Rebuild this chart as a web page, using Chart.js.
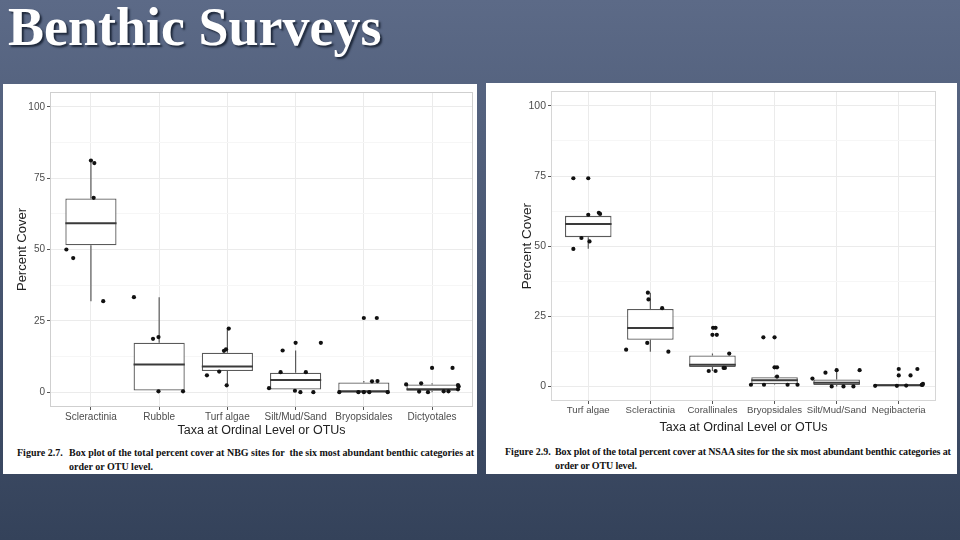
<!DOCTYPE html>
<html>
<head>
<meta charset="utf-8">
<script src="https://cdn.jsdelivr.net/npm/chart.js@4/dist/chart.umd.min.js"></script>
<style>
  body {
    margin: 0; width: 960px; height: 540px; overflow: hidden; position: relative;
    background: linear-gradient(180deg, #5c6a87 0%, #485671 50%, #34425a 100%);
  }
  h1 {
    position: absolute; left: 8px; top: 0; margin: 0;
    font: bold 54px/54px "Liberation Serif", "Times New Roman", serif;
    color: #fff; text-shadow: 2px 2px 2px #1e283a;
  }
  .panel { position: absolute; background: #fff; }
  canvas { position: absolute; }
  .cap {
    position: absolute; font: bold 10px/14px "Liberation Serif", "Times New Roman", serif;
    color: #111; white-space: nowrap;
  }
</style>
</head>
<body>
<h1>Benthic Surveys</h1>
<div class="panel" style="left:3px; top:84px; width:474px; height:390px;"></div>
<div class="panel" style="left:486px; top:83px; width:471px; height:391px;"></div>
<canvas id="nbg" width="475" height="354" style="left:3px; top:84px;"></canvas>
<canvas id="nsaa" width="470" height="352" style="left:487px; top:83px;"></canvas>
<div class="cap" style="left:17px; top:446px;">Figure 2.7.</div>
<div class="cap" style="left:69px; top:446px;">Box plot of the total percent cover at NBG sites for &nbsp;the six most abundant benthic categories at<br>order or OTU level.</div>
<div class="cap" style="left:505px; top:445px;">Figure 2.9.</div>
<div class="cap" style="left:555px; top:445px; letter-spacing:-0.12px;">Box plot of the total percent cover at NSAA sites for the six most abundant benthic categories at<br>order or OTU level.</div>
<script>
// NBG sites (Figure 2.7)
const nbgTaxa = ["Scleractinia", "Rubble", "Turf algae", "Silt/Mud/Sand", "Bryopsidales", "Dictyotales"];
const nbgQ1 = [51.5, 0.6, 7.4, 0.9, 0.0, 0.5];
const nbgMedian = [59.2, 9.7, 9.0, 4.3, 0.2, 1.0];
const nbgQ3 = [67.9, 17.3, 13.8, 6.8, 3.4, 2.7];
const nbgLower = [31.9, 0.3, 2.4, 0.1, 0.0, 0.0];
const nbgUpper = [81.2, 33.3, 22.3, 14.6, 3.9, 3.1];
const nbgSites = [
  [81.2, 80.3, 68.1, 50.0, 47.0, 31.9],
  [33.3, 18.7, 19.3, 0.3, 0.3],
  [22.3, 14.5, 15.0, 5.9, 7.2, 2.4],
  [14.6, 17.3, 17.3, 7.0, 7.0, 1.4, 0.5, 0.0, 0.0],
  [26.0, 26.0, 3.8, 3.9, 0.0, 0.0, 0.0, 0.0, 0.0],
  [8.5, 8.5, 3.1, 2.7, 0.2, 0.0, 0.3, 0.3, 1.0, 2.0, 2.5]
];
const nbgJitter = [
  [0, 0.05, 0.04, -0.36, -0.26, 0.18],
  [-0.37, -0.09, -0.01, -0.01, 0.35],
  [0.02, -0.05, -0.02, -0.3, -0.12, -0.01],
  [-0.19, 0, 0.37, -0.22, 0.15, -0.39, -0.01, 0.07, 0.26],
  [0, 0.19, 0.12, 0.2, -0.36, -0.08, 0, 0.08, 0.35],
  [0, 0.3, -0.16, -0.38, -0.19, -0.06, 0.17, 0.24, 0.38, 0.39, 0.38]
];

// NSAA sites (Figure 2.9)
const nsaaTaxa = ["Turf algae", "Scleractinia", "Corallinales", "Bryopsidales", "Silt/Mud/Sand", "Negibacteria"];
const nsaaQ1 = [53.2, 16.6, 6.9, 0.8, 0.5, 0.0];
const nsaaMedian = [57.9, 20.8, 7.7, 2.2, 1.3, 0.4];
const nsaaQ3 = [60.8, 27.6, 11.0, 3.3, 2.5, 0.8];
const nsaaLower = [49.1, 12.4, 5.5, 0.6, 0.0, 0.0];
const nsaaUpper = [61.2, 33.4, 11.7, 3.5, 5.8, 0.9];
const nsaaSites = [
  [74.2, 74.2, 61.9, 61.5, 61.2, 52.9, 51.7, 49.0],
  [33.4, 31.0, 27.9, 15.5, 13.1, 12.4],
  [20.9, 20.9, 18.4, 18.4, 11.7, 6.6, 6.6, 5.5, 5.5],
  [17.5, 17.5, 6.8, 6.8, 3.5, 0.6, 0.6, 0.6, 0.6],
  [5.8, 5.8, 4.9, 2.8, 0.0, 0.0, 0.0],
  [6.2, 6.2, 3.9, 3.9, 0.2, 0.2, 0.5, 0.6, 0.9, 0.3]
];
const nsaaJitter = [
  [-0.24, 0, 0.17, 0.19, 0, -0.11, 0.02, -0.24],
  [-0.04, -0.03, 0.19, -0.05, -0.39, 0.29],
  [0.01, 0.05, 0, 0.07, 0.27, 0.18, 0.2, -0.06, 0.05],
  [-0.18, 0, 0, 0.04, 0.04, -0.38, 0.37, 0.21, -0.17],
  [0, 0.37, -0.18, -0.39, -0.08, 0.11, 0.27],
  [0, 0.3, 0, 0.19, -0.38, -0.03, 0.38, 0.37, 0.39, 0.12]
];

const yTicks = [0, 12.5, 25, 37.5, 50, 62.5, 75, 87.5, 100];
const BOX_HALF = 0.375;

Chart.defaults.font.family = '"Liberation Sans", Arial, sans-serif';
Chart.defaults.color = "#4d4d4d";

const panelBorder = {
  id: "panelBorder",
  afterDraw(chart, args, opts) {
    const { ctx, chartArea: a } = chart;
    ctx.save();
    ctx.strokeStyle = opts.color;
    ctx.lineWidth = 1;
    ctx.strokeRect(Math.round(a.left) + 0.5, Math.round(a.top) + 0.5, Math.round(a.width) - 1, Math.round(a.height) - 1);
    ctx.restore();
  }
};

function boxDatasets(q1, median, q3, lower, upper, sites, jitter) {
  const medianPath = [], whiskerPath = [], points = [];
  q1.forEach((_, i) => {
    medianPath.push({ x: i - BOX_HALF, y: median[i] }, { x: i + BOX_HALF, y: median[i] }, { x: i, y: null });
    whiskerPath.push({ x: i, y: q3[i] }, { x: i, y: upper[i] }, { x: i, y: null },
                     { x: i, y: q1[i] }, { x: i, y: lower[i] }, { x: i, y: null });
    sites[i].forEach((v, k) => points.push({ x: i + jitter[i][k], y: v }));
  });
  return [
    { type: "scatter", data: points, pointRadius: 2.1, backgroundColor: "#111", borderWidth: 0, order: 0 },
    { type: "line", data: medianPath, borderColor: "#3a3a3a", borderWidth: 2, pointRadius: 0, spanGaps: false, order: 1 },
    {
      type: "bar", data: q1.map((v, i) => ({ x: i, y: [v, q3[i]] })),
      backgroundColor: "#fff", borderColor: "#5a5a5a", borderWidth: 1.3, borderSkipped: false,
      categoryPercentage: 0.75, barPercentage: 1, order: 2
    },
    { type: "line", data: whiskerPath, borderColor: "#5a5a5a", borderWidth: 1.2, pointRadius: 0, spanGaps: false, order: 3 }
  ];
}

function makeChart(id, taxa, datasets, look) {
  return new Chart(document.getElementById(id), {
    type: "scatter",
    data: { datasets: datasets },
    options: {
      responsive: false,
      animation: false,
      events: [],
      layout: { padding: { top: look.padTop, right: look.padRight, left: 0, bottom: 0 } },
      plugins: {
        legend: { display: false },
        tooltip: { enabled: false },
        panelBorder: { color: look.borderColor }
      },
      scales: {
        x: {
          type: "linear",
          min: -0.6,
          max: 5.6,
          offset: false,
          afterBuildTicks: (s) => { s.ticks = taxa.map((t, i) => ({ value: i })); },
          afterFit: (s) => { s.height = look.xHeight; },
          ticks: {
            callback: (v) => taxa[v],
            autoSkip: false, maxRotation: 0, padding: 1,
            color: "#4d4d4d", font: look.xTickFont
          },
          grid: { offset: false, color: "#ebebeb", tickColor: "#555", tickLength: 3 },
          border: { display: false },
          title: {
            display: true, text: "Taxa at Ordinal Level or OTUs", color: "#222",
            font: look.xTitleFont, padding: { top: 0, bottom: 0 }
          }
        },
        y: {
          min: -5.2,
          max: 105.2,
          afterBuildTicks: (s) => { s.ticks = yTicks.map((v) => ({ value: v })); },
          afterFit: (s) => { s.width = look.yWidth; },
          ticks: {
            callback: (v) => (v % 25 === 0 ? v : ""),
            padding: look.yTickPad, color: "#4d4d4d", font: look.yTickFont
          },
          grid: {
            color: (c) => (c.tick && c.tick.value % 25 === 0 ? "#ebebeb" : "#f6f6f6"),
            tickColor: (c) => (c.tick && c.tick.value % 25 === 0 ? "#555" : "rgba(0,0,0,0)"),
            tickLength: 3
          },
          border: { display: false },
          title: {
            display: true, text: "Percent Cover", color: "#222",
            font: look.yTitleFont, padding: { top: look.yTitlePad, bottom: 0 }
          }
        }
      }
    },
    plugins: [panelBorder]
  });
}

makeChart("nbg", nbgTaxa,
  boxDatasets(nbgQ1, nbgMedian, nbgQ3, nbgLower, nbgUpper, nbgSites, nbgJitter),
  {
    padTop: 6, padRight: 5, xHeight: 31, yWidth: 47, yTickPad: 2, yTitlePad: 12,
    borderColor: "#cfcfcf",
    xTickFont: { size: 10 }, yTickFont: { size: 10 },
    xTitleFont: { size: 12.5 }, yTitleFont: { size: 13 }
  });

makeChart("nsaa", nsaaTaxa,
  boxDatasets(nsaaQ1, nsaaMedian, nsaaQ3, nsaaLower, nsaaUpper, nsaaSites, nsaaJitter),
  {
    padTop: 2, padRight: 21, xHeight: 34, yWidth: 64, yTickPad: 2, yTitlePad: 32,
    borderColor: "#d6d6d6",
    xTickFont: { size: 9.6 }, yTickFont: { size: 10.5 },
    xTitleFont: { size: 12.5 }, yTitleFont: { size: 13.5 }
  });
</script>
</body>
</html>
